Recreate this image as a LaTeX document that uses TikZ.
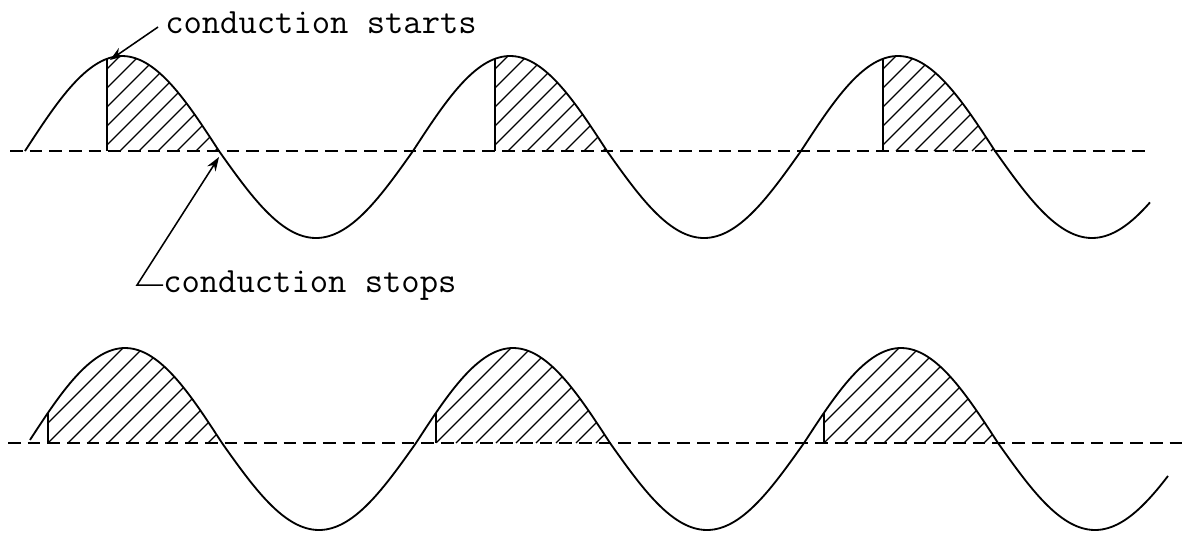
\documentclass[tikz,border=0pt]{standalone}
\usetikzlibrary{arrows.meta}

\tikzset{
  wave/.style={line width=1.3pt, line join=round},
  axisline/.style={line width=1.2pt, dash pattern=on 9pt off 5pt},
  hatch/.style={line width=0.9pt},
  remark/.style={font=\ttfamily\fontsize{25.3}{30}\selectfont, inner sep=0pt},
  pointer/.style={line width=1.1pt, -{Stealth[length=10pt, width=7pt]}}
}

\begin{document}
\begin{tikzpicture}[x=0.025cm, y=-0.025cm,
  declare function={
    top(\x)=151-91*sin((\x-25)/388*360)-4*abs(sin((\x-25)/388*360));
    bot(\x)=443-91*sin((\x-28)/388*360)-4*abs(sin((\x-28)/388*360));
  }]
\useasboundingbox (0,0) rectangle (1184,535);

% draw top trace (late firing)
\draw [axisline] (10,151) -- (1148,151);
\draw [wave] plot [domain=25:1150, samples=400] (\x, {top(\x)});

% hatch the conducting parts of the top trace
\foreach \k in {0,1,2} {
  \pgfmathsetmacro{\xf}{25+388*\k+82}
  \pgfmathsetmacro{\xe}{25+388*\k+196}
  \begin{scope}
    \clip (\xf,151) -- plot [domain=\xf:\xe, samples=60] (\x, {top(\x)}) -- cycle;
    \foreach \h in {0,...,16}
      \draw [hatch] (\xf-120+19*\h,151) -- ++(160,-160);
  \end{scope}
  \draw [wave] (\xf,151) -- (\xf,{top(\xf)});
}

% draw bottom trace (early firing)
\draw [axisline] (8,443) -- (1184,443);
\draw [wave] plot [domain=30:1168, samples=400] (\x, {bot(\x)});

% hatch the conducting parts of the bottom trace
\foreach \k in {0,1,2} {
  \pgfmathsetmacro{\xf}{28+388*\k+20}
  \pgfmathsetmacro{\xe}{28+388*\k+196}
  \begin{scope}
    \clip (\xf,443) -- plot [domain=\xf:\xe, samples=60] (\x, {bot(\x)}) -- cycle;
    \foreach \h in {0,...,16}
      \draw [hatch] (\xf-100+20*\h,443) -- ++(160,-160);
  \end{scope}
  \draw [wave] (\xf,443) -- (\xf,{bot(\xf)});
}

% add texts
\node [remark, anchor=base west] (starts) at (165,33) {conduction starts};
\node [remark, anchor=base west] (stops) at (163,292) {conduction stops};

% draw pointers
\coordinate (fire) at (110,60);
\coordinate (cease) at (219,157);
\draw [pointer, shorten <=6pt] (starts.west) -- (fire);
\draw [pointer] (stops.west) -- ++(-26,0) -- (cease);

\end{tikzpicture}
\end{document}
